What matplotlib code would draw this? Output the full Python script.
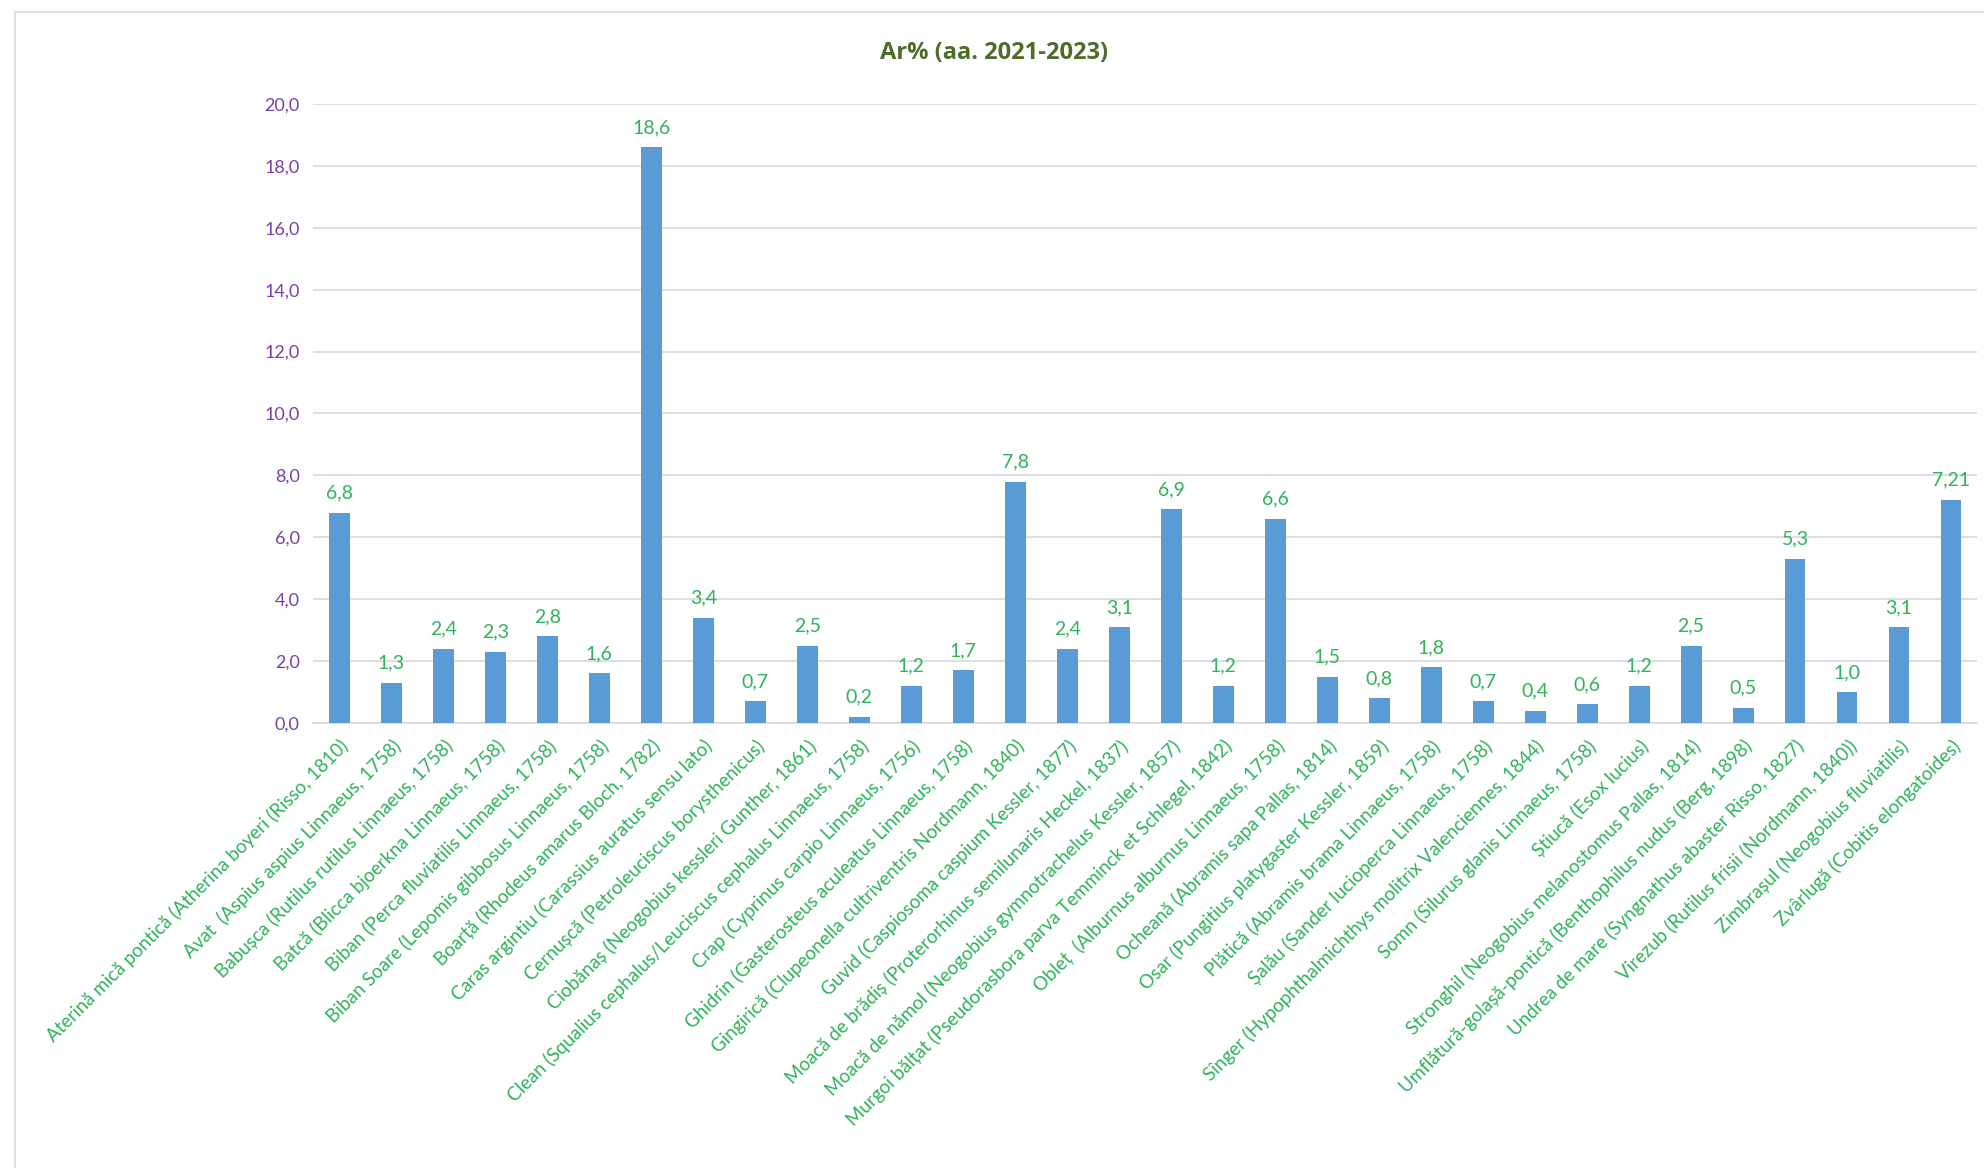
import matplotlib.pyplot as plt
from matplotlib.patches import Rectangle

species = [
    "Aterină mică pontică (Atherina boyeri (Risso, 1810)",
    "Avat  (Aspius aspius Linnaeus, 1758)",
    "Babușca (Rutilus rutilus Linnaeus, 1758)",
    "Batcă (Blicca bjoerkna Linnaeus, 1758)",
    "Biban (Perca fluviatilis Linnaeus, 1758)",
    "Biban Soare (Lepomis gibbosus Linnaeus, 1758)",
    "Boarță (Rhodeus amarus Bloch, 1782)",
    "Caras argintiu (Carassius auratus sensu lato)",
    "Cernușcă (Petroleuciscus borysthenicus)",
    "Ciobănaș (Neogobius kessleri Gunther, 1861)",
    "Clean (Squalius cephalus/Leuciscus cephalus Linnaeus, 1758)",
    "Crap (Cyprinus carpio Linnaeus, 1756)",
    "Ghidrin (Gasterosteus aculeatus Linnaeus, 1758)",
    "Gingirică (Clupeonella cultriventris Nordmann, 1840)",
    "Guvid (Caspiosoma caspium Kessler, 1877)",
    "Moacă de brădiș (Proterorhinus semilunaris Heckel, 1837)",
    "Moacă de nămol (Neogobius gymnotrachelus Kessler, 1857)",
    "Murgoi bălțat (Pseudorasbora parva Temminck et Schlegel, 1842)",
    "Obleț  (Alburnus alburnus Linnaeus, 1758)",
    "Ocheană (Abramis sapa Pallas, 1814)",
    "Osar (Pungitius platygaster Kessler, 1859)",
    "Plătică (Abramis brama Linnaeus, 1758)",
    "Șalău (Sander lucioperca Linnaeus, 1758)",
    "Sînger (Hypophthalmichthys molitrix Valenciennes, 1844)",
    "Somn (Silurus glanis Linnaeus, 1758)",
    "Știucă (Esox lucius)",
    "Stronghil (Neogobius melanostomus Pallas, 1814)",
    "Umflătură-golașă-pontică (Benthophilus nudus (Berg, 1898)",
    "Undrea de mare (Syngnathus abaster Risso, 1827)",
    "Virezub (Rutilus frisii (Nordmann, 1840))",
    "Zimbrașul (Neogobius fluviatilis)",
    "Zvârlugă (Cobitis elongatoides)",
]
ar_pct = [6.8, 1.3, 2.4, 2.3, 2.8, 1.6, 18.6, 3.4, 0.7, 2.5, 0.2, 1.2, 1.7, 7.8,
          2.4, 3.1, 6.9, 1.2, 6.6, 1.5, 0.8, 1.8, 0.7, 0.4, 0.6, 1.2, 2.5, 0.5,
          5.3, 1.0, 3.1, 7.21]
y_ticks = [0, 2, 4, 6, 8, 10, 12, 14, 16, 18, 20]
title = "Ar% (aa. 2021-2023)"

plt.rcParams['font.family'] = ['Lato', 'DejaVu Sans']

bar_color = '#5B9BD5'
label_green = '#2DB35A'
tick_purple = '#7A3FA6'
title_green = '#4E6B2A'

fig = plt.figure(figsize=(19.84, 11.68), dpi=100)
fig.patches.append(Rectangle((0.0076, -0.01), 1.0, 1.0, transform=fig.transFigure,
                             fill=False, edgecolor='#D9D9D9', linewidth=1.2))
ax = fig.add_axes([0.158, 0.381, 0.8385, 0.53])

x = range(len(species))
bars = ax.bar(x, ar_pct, width=0.4, color=bar_color, zorder=3)


def fmt(v):
    s = f"{v:.2f}"
    if s.endswith('0'):
        s = s[:-1]
    return s.replace('.', ',')


for b, v in zip(bars, ar_pct):
    ax.annotate(fmt(v), (b.get_x() + b.get_width() / 2, v), xytext=(0, 8),
                textcoords='offset points', ha='center', va='bottom',
                color=label_green, fontsize=14)

ax.set_xlim(-0.5, len(species) - 0.5)
ax.set_ylim(0, 20)
ax.set_yticks(y_ticks)
ax.set_yticklabels([f"{t:.1f}".replace('.', ',') for t in y_ticks],
                   color=tick_purple, fontsize=13)
ax.set_xticks(list(x))
ax.set_xticklabels(species, rotation=45, ha='right', rotation_mode='anchor',
                   color=label_green, fontsize=13.5)
ax.tick_params(axis='both', length=0)
ax.tick_params(axis='y', pad=10)
ax.tick_params(axis='x', pad=10)
ax.grid(axis='y', color='#D9D9D9', linewidth=1.2, zorder=0)
for side in ['top', 'right', 'left']:
    ax.spines[side].set_visible(False)
ax.spines['bottom'].set_color('#D9D9D9')
ax.spines['bottom'].set_linewidth(1.2)

fig.text(0.501, 0.955, title, ha='center', va='center', fontsize=17,
         fontweight='bold', color=title_green, family=['Open Sans', 'DejaVu Sans'])

fig.savefig('out.png', dpi=100)
